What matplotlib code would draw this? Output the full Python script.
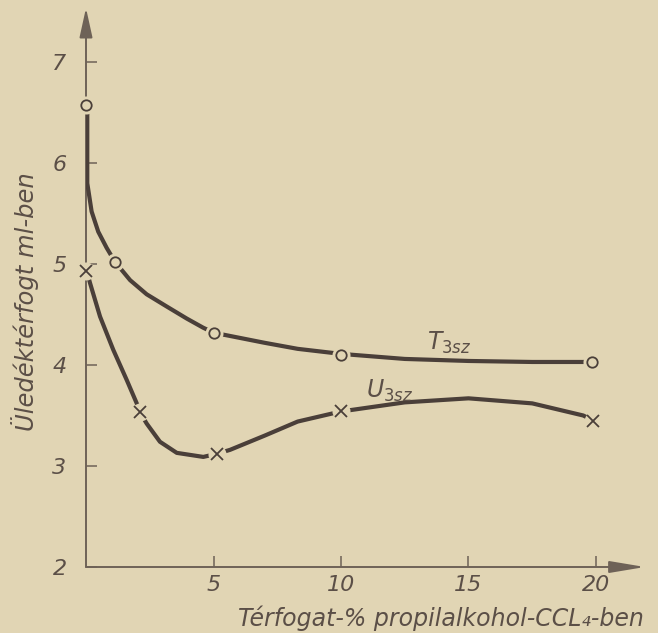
import matplotlib
matplotlib.use("Agg")
import matplotlib.pyplot as plt

# ---- data ----
t_curve_x = [0.05, 0.05, 0.05, 0.22, 0.48, 0.81, 1.14, 1.73, 2.38, 3.16, 3.95, 4.59, 5.0, 5.6, 7.0, 8.3, 10.0, 12.5, 15.0, 17.5, 19.8]
t_curve_y = [6.52, 6.10, 5.80, 5.52, 5.32, 5.16, 5.02, 4.84, 4.70, 4.58, 4.46, 4.37, 4.32, 4.29, 4.22, 4.16, 4.11, 4.06, 4.04, 4.03, 4.03]
t_pts_x = [0.0, 1.14, 5.0, 10.0, 19.85]
t_pts_y = [6.57, 5.02, 4.32, 4.10, 4.03]

u_curve_x = [0.05, 0.16, 0.55, 1.07, 1.6, 1.99, 2.12, 2.38, 2.9, 3.56, 4.6, 5.12, 5.65, 7.0, 8.3, 10.0, 12.5, 15.0, 17.5, 19.5, 19.9]
u_curve_y = [4.91, 4.81, 4.48, 4.15, 3.85, 3.62, 3.53, 3.42, 3.24, 3.13, 3.09, 3.12, 3.16, 3.30, 3.44, 3.54, 3.63, 3.67, 3.62, 3.50, 3.45]
u_pts_x = [0.0, 2.12, 5.12, 10.0, 19.9]
u_pts_y = [4.93, 3.53, 3.12, 3.54, 3.45]

x_ticks = [5, 10, 15, 20]
y_ticks = [2, 3, 4, 5, 6, 7]
x_label = "Térfogat-% propilalkohol-CCL\u2084-ben"
y_label = "Üledéktérfogt ml-ben"
t_name = r"$T_{3sz}$"
u_name = r"$U_{3sz}$"

# ---- styling ----
BG = "#e1d5b4"
INK = "#4a3f39"
AX = "#6e6257"
TXT = "#5b4f47"
plt.rcParams["mathtext.default"] = "it"

W, H = 658, 633
fig = plt.figure(figsize=(W / 100, H / 100), dpi=100, facecolor=BG)
x0_px, x1_px = 86, 645
y0_px, y1_px = 567, 8
ax = fig.add_axes([x0_px / W, 1 - y0_px / H, (x1_px - x0_px) / W, (y0_px - y1_px) / H])
ax.set_facecolor(BG)
xmax = 20 * (x1_px - x0_px) / (596 - x0_px)
ymax = 2 + (y0_px - y1_px) / 101.0
ax.set_xlim(0, xmax)
ax.set_ylim(2, ymax)
for s in ax.spines.values():
    s.set_visible(False)

# axes with arrows
ax.annotate("", xy=(0, ymax), xytext=(0, 2), annotation_clip=False,
            arrowprops=dict(arrowstyle="-|>,head_length=1.0,head_width=0.22",
                            mutation_scale=18, lw=1.4, color=AX, shrinkA=0, shrinkB=0))
ax.annotate("", xy=(xmax, 2), xytext=(0, 2), annotation_clip=False,
            arrowprops=dict(arrowstyle="-|>,head_length=1.2,head_width=0.2",
                            mutation_scale=18, lw=1.4, color=AX, shrinkA=0, shrinkB=0))

ax.set_xticks(x_ticks)
ax.set_xticklabels([str(v) for v in x_ticks])
ax.set_yticks(y_ticks)
ax.set_yticklabels([str(v) for v in y_ticks])
ax.tick_params(axis="y", direction="in", length=8, width=1.1, color=AX, pad=14,
               labelsize=16, labelcolor=TXT)
ax.tick_params(axis="x", direction="in", length=8, width=1.1, color=AX, pad=6,
               labelsize=16, labelcolor=TXT)
for lab in ax.get_xticklabels() + ax.get_yticklabels():
    lab.set_fontstyle("italic")

# curves
ax.plot(t_curve_x, t_curve_y, color=INK, lw=3.0, solid_capstyle="butt",
        solid_joinstyle="round", zorder=3)
ax.plot(u_curve_x, u_curve_y, color=INK, lw=3.0, solid_capstyle="butt",
        solid_joinstyle="round", zorder=3)

# gaps around markers
ax.plot(t_pts_x, t_pts_y, ls="none", marker="o", ms=13, mfc=BG, mec="none", zorder=4, clip_on=False)
ax.plot(u_pts_x, u_pts_y, ls="none", marker="o", ms=13, mfc=BG, mec="none", zorder=4, clip_on=False)
# markers
ax.plot(t_pts_x, t_pts_y, ls="none", marker="o", ms=7.5, mfc=BG, mec=INK, mew=1.3, zorder=5, clip_on=False)
ax.plot(u_pts_x, u_pts_y, ls="none", marker="x", ms=8.5, mec=INK, mew=1.3, zorder=5, clip_on=False)

# curve names
ax.text(13.37, 4.15, t_name, fontsize=17, color=TXT, ha="left", va="baseline")
ax.text(11.0, 3.68, u_name, fontsize=17, color=TXT, ha="left", va="baseline")

# axis labels
fig.text(441 / W, 1 - 618 / H, x_label, fontsize=17, style="italic",
         color=TXT, ha="center", va="center")
fig.text(25 / W, 1 - 302 / H, y_label, fontsize=17.5, style="italic", rotation=90,
         color=TXT, ha="center", va="center")

fig.savefig("out.png", dpi=100, facecolor=BG)
